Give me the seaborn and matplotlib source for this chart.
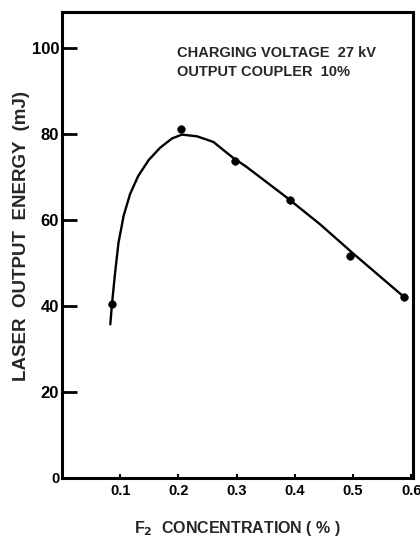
import matplotlib
matplotlib.use("Agg")
import matplotlib.pyplot as plt
import seaborn as sns
import pandas as pd

# measured points
conc_pts = [0.086, 0.205, 0.298, 0.391, 0.494, 0.588]
energy_pts = [40.5, 81.0, 73.6, 64.7, 51.5, 42.0]

# fitted curve
conc_curve = [0.083, 0.086, 0.091, 0.097, 0.106, 0.117, 0.131, 0.149, 0.169,
              0.189, 0.206, 0.232, 0.260, 0.294, 0.317, 0.386, 0.443, 0.500,
              0.583, 0.588]
energy_curve = [35.7, 40.6, 47.4, 54.6, 61.0, 66.0, 70.2, 73.9, 76.8,
                78.9, 79.8, 79.4, 78.1, 74.4, 72.3, 65.2, 59.0, 52.2,
                42.6, 42.0]

xticks = [0.1, 0.2, 0.3, 0.4, 0.5, 0.6]
xticklabels = ["0.1", "0.2", "0.3", "0.4", "0.5", "0.6"]
yticks = [0, 20, 40, 60, 80, 100]
yticklabels = ["0", "20", "40", "60", "80", "100"]

sns.set_theme(style="white")
plt.rcParams["font.family"] = ["Liberation Sans", "DejaVu Sans"]

fig = plt.figure(figsize=(4.2, 5.39), dpi=100)
ax = fig.add_axes([0.1476, 0.1132, 0.8357, 0.8646])

df_curve = pd.DataFrame({"x": conc_curve, "y": energy_curve})
df_pts = pd.DataFrame({"x": conc_pts, "y": energy_pts})
sns.lineplot(data=df_curve, x="x", y="y", ax=ax, color="black", lw=1.7,
             sort=False, estimator=None)
sns.scatterplot(data=df_pts, x="x", y="y", ax=ax, color="black", s=30,
                edgecolor="black", zorder=5)

ax.set_xlim(0, 0.603)
ax.set_ylim(0, 108.3)
ax.set_xticks(xticks)
ax.set_xticklabels(xticklabels, fontsize=10.5, fontweight="bold")
ax.set_yticks(yticks)
ax.set_yticklabels(yticklabels, fontsize=12, fontweight="bold")
ax.tick_params(axis="y", left=True, direction="in", length=11, width=2, pad=2,
               colors="black")
ax.tick_params(axis="x", bottom=True, direction="in", length=3, width=1.5, pad=4,
               colors="black")
for lab in ax.get_yticklabels():
    if lab.get_text() == "0":
        lab.set_fontsize(10.5)

for sp in ax.spines.values():
    sp.set_visible(True)
    sp.set_color("black")
    sp.set_linewidth(2.2)

ax.set_xlabel("")
ax.set_ylabel("")
fig.text(22 / 420, 1 - 236 / 539, "LASER  OUTPUT  ENERGY  (mJ)", rotation=90,
         ha="center", va="center", fontsize=13.5, fontweight="bold")
fig.text(237 / 420, 1 - 528 / 539, r"F$_{\mathbf{2}}$  CONCENTRATION ( % )",
         ha="center", va="center", fontsize=11.5, fontweight="bold")

ax.text(0.198, 98.8, "CHARGING VOLTAGE  27 kV", fontsize=10.5, fontweight="bold",
        ha="left", va="center")
ax.text(0.198, 94.4, "OUTPUT COUPLER  10%", fontsize=10.5, fontweight="bold",
        ha="left", va="center")

fig.savefig("out.png", dpi=100)
